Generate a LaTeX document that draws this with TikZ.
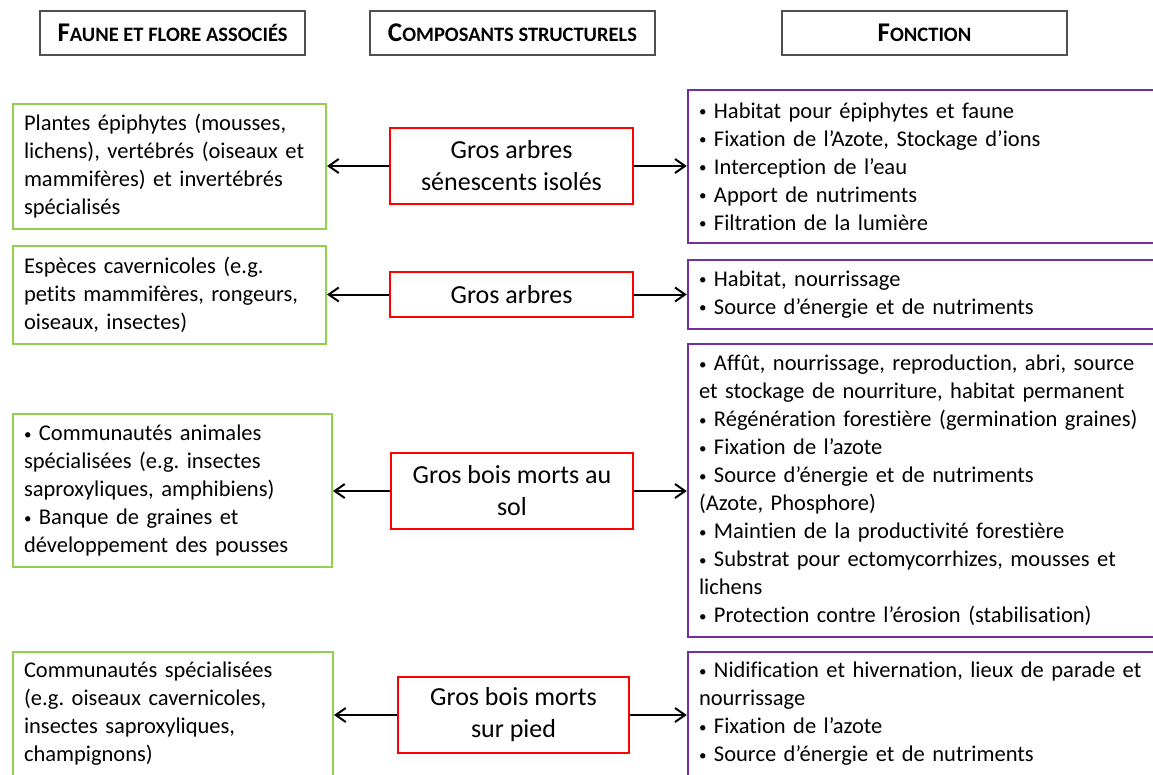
\documentclass[tikz,border=0pt]{standalone}
\usepackage{fontspec}
\setmainfont[Ligatures={NoCommon}]{Carlito}
\usetikzlibrary{arrows.meta}
\definecolor{vertfaune}{RGB}{146,208,80}
\definecolor{violetfonc}{RGB}{112,48,160}
\definecolor{grishead}{RGB}{80,80,80}
\newcommand{\petitcap}[2]{{\fontsize{27}{30}\selectfont #1}{\fontsize{20.5}{30}\selectfont #2}}
\newcommand{\puce}{{\fontsize{15}{28}\selectfont\raisebox{1.5pt}{•}}\ }
\frenchspacing
\begin{document}
\begin{tikzpicture}[x=1pt,y=-1pt,
  titre/.style={draw=grishead, line width=1.5pt, minimum height=44pt, inner sep=0pt, font=\bfseries},
  faune/.style={draw=vertfaune, line width=2pt, align=left, inner xsep=11pt, inner ysep=0pt,
    font=\fontsize{22.5}{28}\selectfont},
  compo/.style={draw=red, line width=2pt, align=center, inner sep=0pt,
    font=\fontsize{26}{32}\selectfont},
  fonc/.style={draw=violetfonc, line width=2.5pt, align=left, inner xsep=11pt, inner ysep=0pt,
    font=\fontsize{22.5}{28}\selectfont},
  fleche/.style={line width=2pt, -{Straight Barb[length=10pt,width=14pt,line width=2pt]}}]
\useasboundingbox[fill=white] (0,0) rectangle (1153,774);

% en-tetes
\node[titre, minimum width=265pt] (titreA) at (172.5,33) {\petitcap{F}{AUNE ET FLORE ASSOCIÉS}};
\node[titre, minimum width=285pt] (titreB) at (512.5,33) {\petitcap{C}{OMPOSANTS STRUCTURELS}};
\node[titre, minimum width=285pt] (titreC) at (924.5,33) {\petitcap{F}{ONCTION}};

% gros arbres senescents isoles
\node[faune, minimum width=313pt, minimum height=125pt, text width=291pt] (faune1) at (169.5,166.5)
  {Plantes épiphytes (mousses,\\ lichens), vertébrés (oiseaux et\\ mammifères) et invertébrés\\ spécialisés};
\node[compo, minimum width=243pt, minimum height=76pt] (compo1) at (511.5,166)
  {Gros arbres\\ sénescents isolés};
\node[fonc, minimum width=474pt, minimum height=153pt, text width=452pt] (fonc1) at (925,166.5)
  {\puce Habitat pour épiphytes et faune\\ \puce Fixation de l’Azote, Stockage d’ions\\ \puce Interception de l’eau\\
   \puce Apport de nutriments\\ \puce Filtration de la lumière};

% gros arbres
\node[faune, minimum width=313pt, minimum height=98pt, text width=291pt] (faune2) at (169.5,295)
  {Espèces cavernicoles (e.g.\\ petits mammifères, rongeurs,\\ oiseaux, insectes)};
\node[compo, minimum width=243pt, minimum height=45pt] (compo2) at (511.5,294.5) {Gros arbres};
\node[fonc, minimum width=474pt, minimum height=69pt, text width=452pt] (fonc2) at (925,294.5)
  {\puce Habitat, nourrissage\\ \puce Source d’énergie et de nutriments};

% gros bois morts au sol
\node[faune, minimum width=319pt, minimum height=153pt, text width=297pt] (faune3) at (172.5,490.5)
  {\puce Communautés animales\\ spécialisées (e.g. insectes\\ saproxyliques, amphibiens)\\
   \puce Banque de graines et\\ développement des pousses};
\node[compo, minimum width=242pt, minimum height=76pt] (compo3) at (512,491)
  {Gros bois morts au\\ sol};
\node[fonc, minimum width=474pt, minimum height=293pt, text width=452pt] (fonc3) at (925,490.5)
  {\puce Affût, nourrissage, reproduction, abri, source\\ et stockage de nourriture, habitat permanent\\
   \puce Régénération forestière (germination graines)\\ \puce Fixation de l’azote\\
   \puce Source d’énergie et de nutriments\\ (Azote, Phosphore)\\ \puce Maintien de la productivité forestière\\
   \puce Substrat pour ectomycorrhizes, mousses et\\ lichens\\ \puce Protection contre l’érosion (stabilisation)};

% gros bois morts sur pied
\node[faune, minimum width=320pt, minimum height=124pt, text width=298pt] (faune4) at (173,714)
  {Communautés spécialisées\\ (e.g. oiseaux cavernicoles,\\ insectes saproxyliques,\\ champignons)};
\node[compo, minimum width=231pt, minimum height=76pt] (compo4) at (513.5,715)
  {Gros bois morts\\ sur pied};
\node[fonc, minimum width=474pt, minimum height=124pt, text width=452pt] (fonc4) at (925,714)
  {\puce Nidification et hivernation, lieux de parade et\\ nourrissage\\ \puce Fixation de l’azote\\
   \puce Source d’énergie et de nutriments};

% fleches
\foreach \r in {1,2,3,4}{
  \draw[fleche] (compo\r.west) -- (faune\r.east |- compo\r.west);
  \draw[fleche] (compo\r.east) -- (fonc\r.west |- compo\r.east);
}
\end{tikzpicture}
\end{document}
